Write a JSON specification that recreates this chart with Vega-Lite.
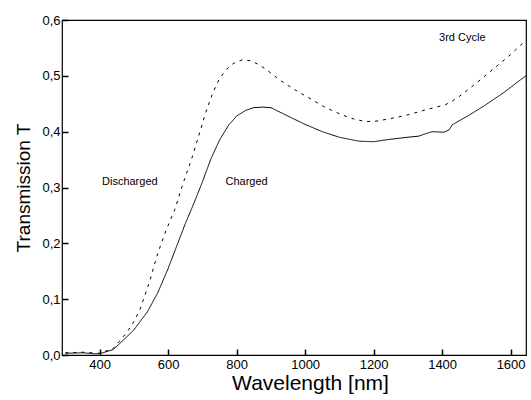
{
  "$schema": "https://vega.github.io/schema/vega-lite/v6.json",
  "width": 464,
  "height": 335,
  "autosize": {"type": "none"},
  "padding": {"left": 62, "top": 20, "right": 5, "bottom": 45},
  "background": "white",
  "config": {
    "locale": {"number": {"decimal": ",", "thousands": ".", "grouping": [3], "currency": ["", ""]}},
    "view": {"stroke": "black", "strokeWidth": 1.2},
    "font": "Liberation Sans",
    "axis": {
      "domainColor": "black",
      "tickColor": "black",
      "tickOpacity": 1,
      "labelColor": "black",
      "titleColor": "black",
      "labelFont": "Liberation Sans",
      "titleFont": "Liberation Sans",
      "labelFontSize": 13,
      "titleFontWeight": "normal",
      "grid": false,
      "labelOverlap": false,
      "labelFlush": false
    }
  },
  "datasets": {
    "curves": [
      {"wl": 300, "T": 0.003, "s": "Charged"}, {"wl": 350, "T": 0.004, "s": "Charged"}, {"wl": 390, "T": 0.002, "s": "Charged"}, {"wl": 410, "T": 0.004, "s": "Charged"}, {"wl": 440, "T": 0.01, "s": "Charged"}, {"wl": 468, "T": 0.026, "s": "Charged"}, {"wl": 500, "T": 0.045, "s": "Charged"}, {"wl": 540, "T": 0.078, "s": "Charged"}, {"wl": 570, "T": 0.112, "s": "Charged"}, {"wl": 600, "T": 0.155, "s": "Charged"}, {"wl": 628, "T": 0.2, "s": "Charged"}, {"wl": 650, "T": 0.235, "s": "Charged"}, {"wl": 676, "T": 0.273, "s": "Charged"}, {"wl": 700, "T": 0.31, "s": "Charged"}, {"wl": 724, "T": 0.35, "s": "Charged"}, {"wl": 750, "T": 0.385, "s": "Charged"}, {"wl": 777, "T": 0.412, "s": "Charged"}, {"wl": 800, "T": 0.428, "s": "Charged"}, {"wl": 826, "T": 0.438, "s": "Charged"}, {"wl": 850, "T": 0.443, "s": "Charged"}, {"wl": 875, "T": 0.444, "s": "Charged"}, {"wl": 900, "T": 0.443, "s": "Charged"}, {"wl": 953, "T": 0.427, "s": "Charged"}, {"wl": 1000, "T": 0.413, "s": "Charged"}, {"wl": 1050, "T": 0.4, "s": "Charged"}, {"wl": 1100, "T": 0.39, "s": "Charged"}, {"wl": 1157, "T": 0.383, "s": "Charged"}, {"wl": 1200, "T": 0.382, "s": "Charged"}, {"wl": 1244, "T": 0.386, "s": "Charged"}, {"wl": 1300, "T": 0.39, "s": "Charged"}, {"wl": 1332, "T": 0.392, "s": "Charged"}, {"wl": 1350, "T": 0.396, "s": "Charged"}, {"wl": 1371, "T": 0.4, "s": "Charged"}, {"wl": 1405, "T": 0.399, "s": "Charged"}, {"wl": 1420, "T": 0.403, "s": "Charged"}, {"wl": 1430, "T": 0.4125, "s": "Charged"}, {"wl": 1480, "T": 0.43, "s": "Charged"}, {"wl": 1527, "T": 0.448, "s": "Charged"}, {"wl": 1580, "T": 0.47, "s": "Charged"}, {"wl": 1629, "T": 0.493, "s": "Charged"}, {"wl": 1645, "T": 0.5, "s": "Charged"},
      {"wl": 300, "T": 0.004, "s": "Discharged"}, {"wl": 350, "T": 0.005, "s": "Discharged"}, {"wl": 400, "T": 0.003, "s": "Discharged"}, {"wl": 440, "T": 0.012, "s": "Discharged"}, {"wl": 479, "T": 0.04, "s": "Discharged"}, {"wl": 500, "T": 0.06, "s": "Discharged"}, {"wl": 518, "T": 0.082, "s": "Discharged"}, {"wl": 545, "T": 0.13, "s": "Discharged"}, {"wl": 570, "T": 0.183, "s": "Discharged"}, {"wl": 595, "T": 0.225, "s": "Discharged"}, {"wl": 619, "T": 0.26, "s": "Discharged"}, {"wl": 645, "T": 0.31, "s": "Discharged"}, {"wl": 668, "T": 0.35, "s": "Discharged"}, {"wl": 692, "T": 0.398, "s": "Discharged"}, {"wl": 710, "T": 0.435, "s": "Discharged"}, {"wl": 730, "T": 0.469, "s": "Discharged"}, {"wl": 750, "T": 0.495, "s": "Discharged"}, {"wl": 769, "T": 0.511, "s": "Discharged"}, {"wl": 790, "T": 0.522, "s": "Discharged"}, {"wl": 818, "T": 0.529, "s": "Discharged"}, {"wl": 840, "T": 0.527, "s": "Discharged"}, {"wl": 866, "T": 0.52, "s": "Discharged"}, {"wl": 900, "T": 0.505, "s": "Discharged"}, {"wl": 924, "T": 0.493, "s": "Discharged"}, {"wl": 970, "T": 0.475, "s": "Discharged"}, {"wl": 1021, "T": 0.457, "s": "Discharged"}, {"wl": 1060, "T": 0.443, "s": "Discharged"}, {"wl": 1108, "T": 0.43, "s": "Discharged"}, {"wl": 1140, "T": 0.423, "s": "Discharged"}, {"wl": 1176, "T": 0.418, "s": "Discharged"}, {"wl": 1210, "T": 0.419, "s": "Discharged"}, {"wl": 1254, "T": 0.424, "s": "Discharged"}, {"wl": 1300, "T": 0.43, "s": "Discharged"}, {"wl": 1351, "T": 0.439, "s": "Discharged"}, {"wl": 1409, "T": 0.448, "s": "Discharged"}, {"wl": 1430, "T": 0.455, "s": "Discharged"}, {"wl": 1450, "T": 0.463, "s": "Discharged"}, {"wl": 1500, "T": 0.487, "s": "Discharged"}, {"wl": 1547, "T": 0.511, "s": "Discharged"}, {"wl": 1600, "T": 0.538, "s": "Discharged"}, {"wl": 1645, "T": 0.564, "s": "Discharged"}
    ],
    "labels": [
      {"wl": 1459, "T": 0.568, "text": "3rd Cycle"},
      {"wl": 488, "T": 0.309, "text": "Discharged"},
      {"wl": 829, "T": 0.309, "text": "Charged"}
    ]
  },
  "encoding": {
    "x": {
      "field": "wl", "type": "quantitative",
      "scale": {"domain": [290, 1645], "nice": false, "zero": false},
      "axis": {
        "title": "Wavelength [nm]",
        "titleFontSize": 21,
        "values": [400, 600, 800, 1000, 1200, 1400, 1600],
        "format": "d",
        "ticks": true,
        "tickSize": 6,
        "tickWidth": 1.5,
        "tickColor": "black",
        "tickOpacity": 1,
        "tickDash": [],
        "zindex": 2,
        "offset": -6,
        "domain": false,
        "labelPadding": 3,
        "titlePadding": 1,
        "titleX": 248
      }
    },
    "y": {
      "field": "T", "type": "quantitative",
      "scale": {"domain": [0, 0.6], "nice": false},
      "axis": {
        "title": "Transmission T",
        "titleFontSize": 19,
        "values": [0, 0.1, 0.2, 0.3, 0.4, 0.5, 0.6],
        "format": ".1f",
        "ticks": true,
        "tickSize": 6,
        "tickWidth": 1.5,
        "tickColor": "black",
        "tickOpacity": 1,
        "tickDash": [],
        "zindex": 2,
        "offset": -6,
        "domain": false,
        "labelPadding": 2,
        "titlePadding": 8
      }
    }
  },
  "layer": [
    {
      "data": {"name": "curves"},
      "mark": {"type": "line", "color": "black", "strokeWidth": 1, "clip": true},
      "encoding": {
        "strokeDash": {
          "field": "s", "type": "nominal",
          "scale": {"domain": ["Charged", "Discharged"], "range": [[1, 0], [3, 5]]},
          "legend": null
        },
        "detail": {"field": "s"}
      }
    },
    {
      "data": {"name": "labels"},
      "mark": {"type": "text", "fontSize": 11, "font": "Liberation Sans", "color": "black", "align": "center", "baseline": "middle"},
      "encoding": {
        "text": {"field": "text"}
      }
    }
  ]
}
